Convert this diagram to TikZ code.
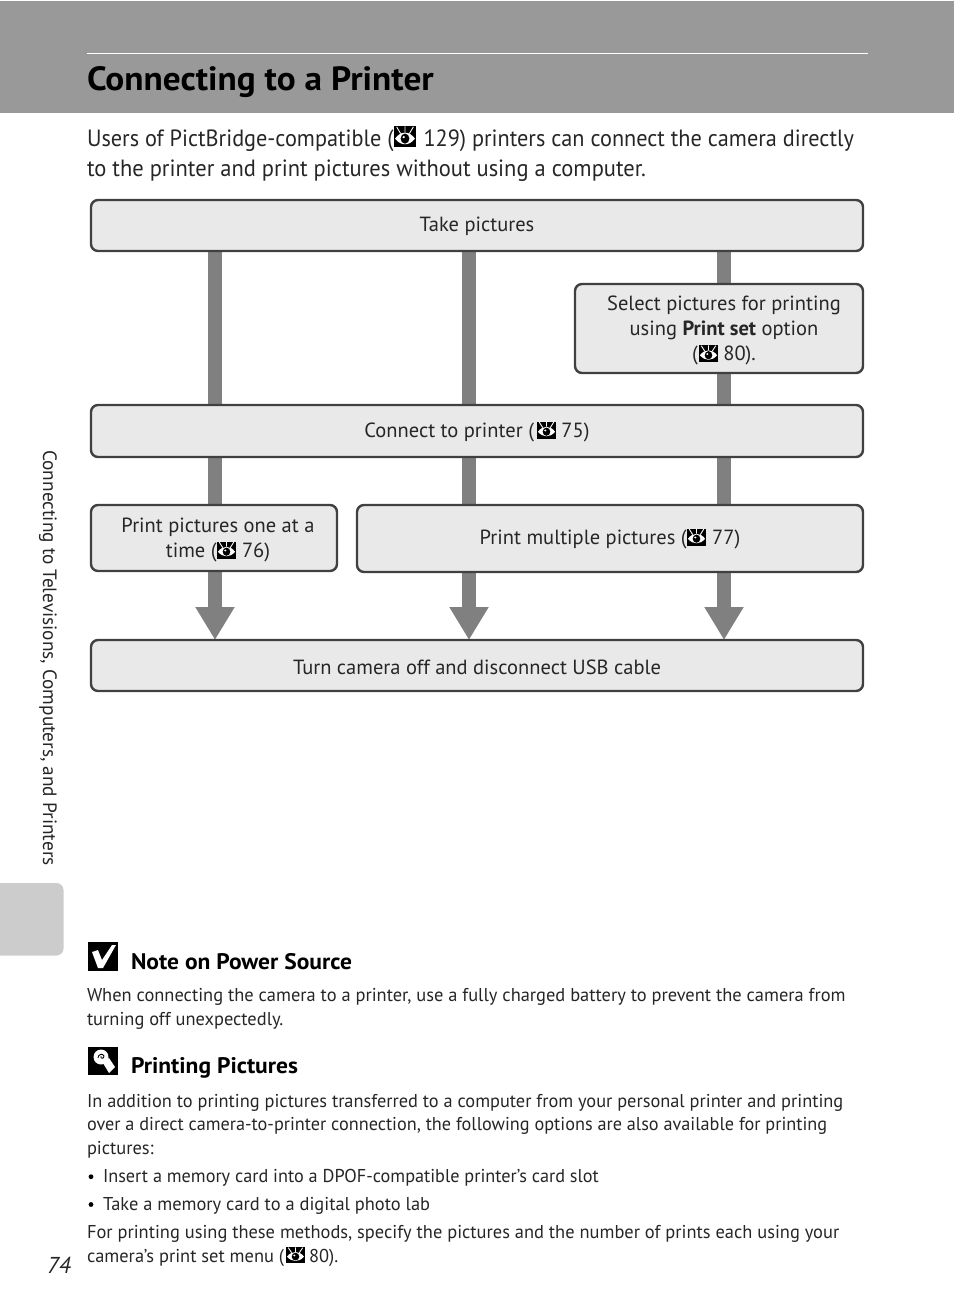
\documentclass[tikz,border=0pt]{standalone}
\usepackage{fontspec}
\setmainfont{PT Sans}
\newfontfamily\bodyf[FakeStretch=0.957]{PT Sans}
\newfontfamily\bodyg[FakeStretch=0.947]{PT Sans}
\newfontfamily\notef[FakeStretch=0.99]{PT Sans}
\newfontfamily\noteg[FakeStretch=0.98]{PT Sans}
\newfontfamily\noteh[FakeStretch=0.986]{PT Sans}
\newfontfamily\headf[FakeStretch=1.045,BoldFont={PT Sans Bold}]{PT Sans}
\newfontfamily\titlef[FakeStretch=1.05]{PT Sans Bold}
\usetikzlibrary{arrows.meta,backgrounds}
\definecolor{band}{HTML}{999999}
\definecolor{tabgray}{HTML}{CCCCCC}
\definecolor{boxfill}{HTML}{E9E9E9}
\definecolor{boxline}{HTML}{404040}
\definecolor{flowgray}{HTML}{808080}
\definecolor{inktext}{HTML}{262626}
\newcommand{\fs}[2]{\fontsize{#1}{#2}\selectfont}
\newcommand{\gapeye}[1]{\hspace{#1pt}}
\newcommand{\firstline}{\rule{0pt}{18pt}}
\newcommand{\oneline}{\rule{0pt}{17pt}}
\newcommand{\eyeicon}[4]{%
 \begin{scope}[shift={(#1,#2)},x=#3pt,y=-#4pt]
  \fill[black] (-.5,-.5) rectangle (.5,.5);
  \fill[white] (-.45,.1) .. controls (-.2,-.28) and (.2,-.28) .. (.45,.1) .. controls (.2,.46) and (-.2,.46) .. (-.45,.1);
  \fill[black] (0,.1) circle[x radius=.2,y radius=.24];
  \fill[white] (-.06,.03) circle[radius=.06];
  \draw[white,line width=.9pt] (-.38,-.46)--(-.2,-.14) (.38,-.46)--(.2,-.14) (0,-.48)--(0,-.2);
 \end{scope}}
\tikzset{
 x=1pt,y=-1pt,
 flowbox/.style={draw=boxline,fill=boxfill,line width=2.4pt,rounded corners=7pt,inner sep=0pt,outer sep=0pt,align=center,text=inktext,font=\fs{20.5}{25}},
 flowline/.style={draw=flowgray,line width=14pt},
 flowarrow/.style={flowline,-{Triangle[width=37pt,length=33pt]}},
 txt/.style={anchor=base west,inner sep=0pt,outer sep=0pt,text=inktext},
 bodyline/.style={txt,font=\bodyf\fs{23.5}{30}},
 noteline/.style={txt,font=\notef\fs{18.6}{24}},
 noteliner/.style={txt,font=\noteg\fs{18.6}{24}},
 notelineh/.style={txt,font=\noteh\fs{18.6}{24}},
 notehead/.style={txt,text=black,font=\headf\bfseries\fs{22.5}{26}},
}
\begin{document}
\begin{tikzpicture}
\useasboundingbox (0,0) rectangle (954,1314);
% header band and tab
\fill[band] (0,1) rectangle (954,113);
\draw[white,line width=1pt] (87,53.5) -- (868,53.5);
\node[txt,text=black,font=\titlef\fs{33.6}{36}] (title) at (87,90) {Connecting to a Printer};
\fill[tabgray,rounded corners=7pt] (-10,883) rectangle (63.5,955.5);
% intro
\node[txt,font=\bodyg\fs{23.5}{30}] (intro1) at (87,146) {Users of PictBridge-compatible (\gapeye{24} 129) printers can connect the camera directly};
\node[bodyline] (intro2) at (87,176) {to the printer and print pictures without using a computer.};
% flow boxes
\node[flowbox,minimum width=772pt,minimum height=51pt] (take) at (477,225.5) {\oneline Take pictures};
\node[flowbox,minimum width=288pt,minimum height=89pt] (select) at (719,328.5) {\firstline\hspace*{10pt}Select pictures for printing\\\hspace*{10pt}using \textbf{Print set} option\\\hspace*{10pt}(\gapeye{20} 80).};
\node[flowbox,minimum width=772pt,minimum height=52pt] (connect) at (477,431) {\oneline Connect to printer (\gapeye{22} 75)};
\node[flowbox,minimum width=246pt,minimum height=66pt] (one) at (214,538) {\firstline\hspace*{8pt}Print pictures one at a\\\hspace*{8pt}time (\gapeye{20} 76)};
\node[flowbox,minimum width=506pt,minimum height=67pt] (multi) at (610,538.5) {\oneline Print multiple pictures (\gapeye{20} 77)};
\node[flowbox,minimum width=772pt,minimum height=51pt] (turn) at (477,665.5) {\rule{0pt}{19pt}Turn camera off and disconnect USB cable};
\coordinate (colA) at (215,0);
\coordinate (colB) at (469,0);
\coordinate (colC) at (724,0);
\begin{pgfonlayer}{background}
 \draw[flowline] (colA |- take.south) -- (colA |- connect.north);
 \draw[flowline] (colB |- take.south) -- (colB |- connect.north);
 \draw[flowline] (colC |- take.south) -- (colC |- select.north);
 \draw[flowline] (colC |- select.south) -- (colC |- connect.north);
 \draw[flowline] (colA |- connect.south) -- (colA |- one.north);
 \draw[flowline] (colB |- connect.south) -- (colB |- multi.north);
 \draw[flowline] (colC |- connect.south) -- (colC |- multi.north);
 \draw[flowarrow] (colA |- one.south) -- (colA |- turn.north);
 \draw[flowarrow] (colB |- multi.south) -- (colB |- turn.north);
 \draw[flowarrow] (colC |- multi.south) -- (colC |- turn.north);
\end{pgfonlayer}
% eye icons
\eyeicon{405}{136.5}{22}{21}
\eyeicon{708.5}{353.5}{19}{17}
\eyeicon{546.5}{430}{19}{17}
\eyeicon{226.5}{550}{19}{17}
\eyeicon{696.5}{537}{19}{17}
\eyeicon{295.5}{1255}{19}{16}
% side text and page number
\node[anchor=base west,inner sep=0pt,rotate=-90,text=inktext,font=\fs{19.3}{22}] (side) at (43,450) {Connecting to Televisions, Computers, and Printers};
\node[txt,font=\itshape\fs{23}{26}] (page) at (47,1273) {74};
% note 1
\fill[black] (88,942) rectangle (118,971);
\fill[white] (92,952) -- (98,950) -- (102,960) -- (112,945) -- (116,945) -- (103,968) -- (98,968) -- cycle;
\node[notehead] (nhead) at (131,969) {Note on Power Source};
\node[noteline] (n1) at (87,1001) {When connecting the camera to a printer, use a fully charged battery to prevent the camera from};
\node[noteline] (n2) at (87,1025) {turning off unexpectedly.};
% note 2
\fill[black] (88,1047) rectangle (118,1075);
\fill[white] (101,1057) circle[radius=7.5];
\fill[white] (103,1063) -- (109,1058) -- (115,1067) -- (109,1073) -- cycle;
\draw[black,line width=.9pt] (98,1058) .. controls (98,1054) and (103,1053) .. (104,1056) .. controls (104,1059) and (100,1059) .. (101,1056);
\node[notehead] (phead) at (131,1073) {Printing Pictures};
\node[notelineh] (p1) at (87,1107) {In addition to printing pictures transferred to a computer from your personal printer and printing};
\node[noteliner] (p2) at (87,1130) {over a direct camera-to-printer connection, the following options are also available for printing};
\node[noteline] (p3) at (87,1154) {pictures:};
\fill[black] (91,1176.7) circle[radius=2.4];
\node[noteliner] (b1) at (103,1182) {Insert a memory card into a DPOF-compatible printer’s card slot};
\fill[black] (91,1204.5) circle[radius=2.4];
\node[noteline] (b2) at (103,1210) {Take a memory card to a digital photo lab};
\node[noteline] (p4) at (87,1238) {For printing using these methods, specify the pictures and the number of prints each using your};
\node[noteline] (p5) at (87,1262) {camera’s print set menu (\gapeye{20} 80).};
\end{tikzpicture}
\end{document}
